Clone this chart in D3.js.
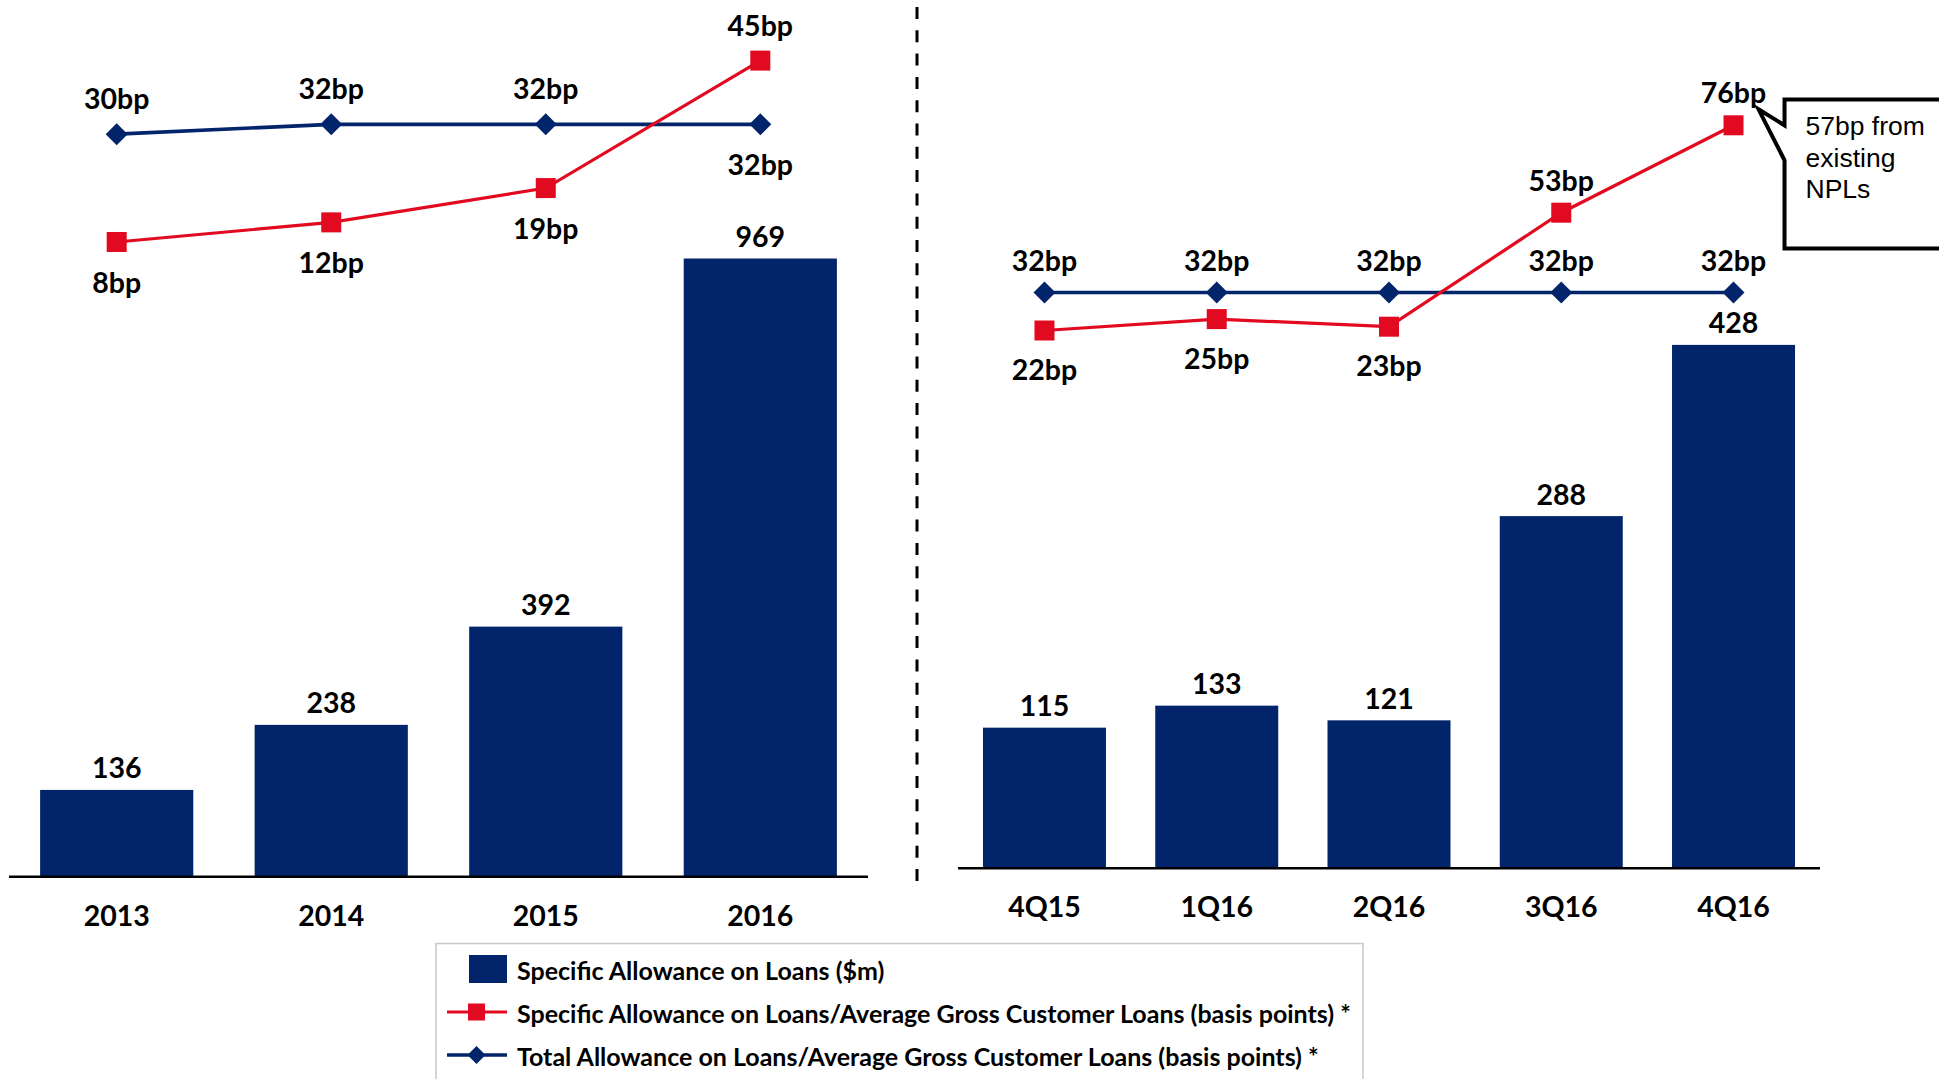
<!DOCTYPE html>
<html>
<head>
<meta charset="utf-8">
<script src="https://cdn.jsdelivr.net/npm/d3@7/dist/d3.min.js"></script>
<style>
  html, body { margin: 0; padding: 0; background: #ffffff; }
  svg { display: block; }
  .lbl { font-family: Lato, "Open Sans", sans-serif; font-weight: 700; fill: #000; }
</style>
</head>
<body>
<svg id="chart" width="1939" height="1079"></svg>
<script>
// ---- Annual figures ----
const yearCategories = ["2013", "2014", "2015", "2016"];
const yearAllowance = [136, 238, 392, 969];          // $m
const yearSpecificBp = [8, 12, 19, 45];              // basis points
const yearTotalBp = [30, 32, 32, 32];                // basis points

// ---- Quarterly figures ----
const quarterCategories = ["4Q15", "1Q16", "2Q16", "3Q16", "4Q16"];
const quarterAllowance = [115, 133, 121, 288, 428];  // $m
const quarterSpecificBp = [22, 25, 23, 53, 76];      // basis points
const quarterTotalBp = [32, 32, 32, 32, 32];         // basis points

// ---- Legend and note ----
const legendLabels = [
  "Specific Allowance on Loans ($m)",
  "Specific Allowance on Loans/Average Gross Customer Loans (basis points) *",
  "Total Allowance on Loans/Average Gross Customer Loans (basis points) *"
];
const noteLines = ["57bp from", "existing", "NPLs"];

const NAVY = "#02246a";
const RED = "#e20a20";
const FONT = 'Lato, "Open Sans", sans-serif';
const LABEL_SIZE = 28.5;

const svg = d3.select("#chart");

const diamondPath = r => `M0,${-r}L${r},0L0,${r}L${-r},0Z`;

function drawPanel(p) {
  const g = svg.append("g");
  const x = d3.scaleBand()
    .domain(p.categories)
    .range(p.xRange)
    .paddingInner(0.286)
    .paddingOuter(0.145);
  const yBar = d3.scaleLinear().domain(p.barDomain).range(p.barRange);
  const yBp = d3.scaleLinear().domain(p.bpDomain).range(p.bpRange);
  const cx = c => x(c) + x.bandwidth() / 2;

  // bars
  g.selectAll("rect.bar")
    .data(p.categories.map((c, i) => ({ c, v: p.bars[i] })))
    .join("rect")
    .attr("class", "bar")
    .attr("x", d => x(d.c))
    .attr("y", d => yBar(d.v))
    .attr("width", x.bandwidth())
    .attr("height", d => yBar(0) - yBar(d.v))
    .attr("fill", NAVY);

  // bar value labels
  g.selectAll("text.barval")
    .data(p.categories.map((c, i) => ({ c, v: p.bars[i] })))
    .join("text")
    .attr("class", "lbl barval")
    .attr("x", d => cx(d.c))
    .attr("y", d => yBar(d.v) - 11.5)
    .attr("text-anchor", "middle")
    .attr("font-size", LABEL_SIZE)
    .text(d => d.v);

  // category axis
  const axis = d3.axisBottom(x).tickSize(0).tickPadding(0);
  const ax = g.append("g")
    .attr("transform", `translate(0,${yBar(0)})`)
    .call(axis);
  ax.select(".domain")
    .attr("d", `M${p.axisExtent[0]},0H${p.axisExtent[1]}`)
    .attr("stroke", "#000")
    .attr("stroke-width", 2.6);
  ax.selectAll(".tick text")
    .attr("y", 49)
    .attr("dy", null)
    .attr("font-family", FONT)
    .attr("font-weight", 700)
    .attr("font-size", LABEL_SIZE)
    .attr("fill", "#000");

  // lines: total (blue) underneath, specific (red) on top
  const series = [
    { vals: p.total, color: NAVY, width: 3.6, marker: "diamond", sides: p.totalSides },
    { vals: p.specific, color: RED, width: 3.2, marker: "square", sides: p.specificSides }
  ];
  series.forEach(s => {
    const pts = p.categories.map((c, i) => ({ c, v: s.vals[i], side: s.sides[i] }));
    g.append("path")
      .datum(pts)
      .attr("fill", "none")
      .attr("stroke", s.color)
      .attr("stroke-width", s.width)
      .attr("d", d3.line().x(d => cx(d.c)).y(d => yBp(d.v)));
    if (s.marker === "square") {
      g.selectAll(null).data(pts).join("rect")
        .attr("x", d => cx(d.c) - 10)
        .attr("y", d => yBp(d.v) - 10)
        .attr("width", 20).attr("height", 20)
        .attr("fill", s.color);
    } else {
      g.selectAll(null).data(pts).join("path")
        .attr("transform", d => `translate(${cx(d.c)},${yBp(d.v)})`)
        .attr("d", diamondPath(11))
        .attr("fill", s.color);
    }
    g.selectAll(null).data(pts).join("text")
      .attr("class", "lbl")
      .attr("x", d => cx(d.c))
      .attr("y", d => yBp(d.v) + (d.side === "above" ? p.aboveOffset : p.belowOffset))
      .attr("text-anchor", "middle")
      .attr("font-size", LABEL_SIZE)
      .text(d => d.v + "bp");
  });

  return { x, yBar, yBp, cx };
}

// annual panel
drawPanel({
  categories: yearCategories,
  bars: yearAllowance,
  specific: yearSpecificBp,
  total: yearTotalBp,
  specificSides: ["below", "below", "below", "above"],
  totalSides: ["above", "above", "above", "below"],
  xRange: [9, 868],
  axisExtent: [9, 868],
  barDomain: [0, 969],
  barRange: [876.7, 258.5],
  bpDomain: [0, 45],
  bpRange: [281.2, 60.6],
  aboveOffset: -25,
  belowOffset: 51
});

// quarterly panel
const q = drawPanel({
  categories: quarterCategories,
  bars: quarterAllowance,
  specific: quarterSpecificBp,
  total: quarterTotalBp,
  specificSides: ["below", "below", "below", "above", "above"],
  totalSides: ["above", "above", "above", "above", "above"],
  xRange: [958, 1820],
  axisExtent: [958, 1820],
  barDomain: [0, 428],
  barRange: [868.3, 344.9],
  bpDomain: [0, 76],
  bpRange: [414.1, 125.3],
  aboveOffset: -22,
  belowOffset: 49.5
});

// dashed divider between the two panels
svg.append("line")
  .attr("x1", 917).attr("x2", 917)
  .attr("y1", 7).attr("y2", 884)
  .attr("stroke", "#000")
  .attr("stroke-width", 3)
  .attr("stroke-dasharray", "12 11.3");

// callout attached to the latest quarterly point
{
  const last = quarterCategories.length - 1;
  const px = q.cx(quarterCategories[last]);
  const py = q.yBp(quarterSpecificBp[last]);
  const left = px + 51, top = py - 25.7, bottom = py + 123.3, right = 1960;
  const tip = [px + 25, py - 16];
  const pts = [
    [right, top], [left, top], [left, py], tip, [left, py + 35], [left, bottom], [right, bottom]
  ];
  svg.append("path")
    .attr("d", d3.line()(pts))
    .attr("fill", "#fff")
    .attr("stroke", "#000")
    .attr("stroke-width", 4)
    .attr("stroke-linejoin", "miter");
  svg.append("g").selectAll("text")
    .data(noteLines)
    .join("text")
    .attr("x", left + 21)
    .attr("y", (d, i) => py + 10 + i * 31.3)
    .attr("font-family", '"Liberation Sans", Arial, sans-serif')
    .attr("font-size", 26.5)
    .attr("fill", "#000")
    .text(d => d);
}

// legend
{
  const lg = svg.append("g");
  lg.append("rect")
    .attr("x", 436).attr("y", 943.5)
    .attr("width", 927).attr("height", 200)
    .attr("fill", "#fff")
    .attr("stroke", "#c8c8c8")
    .attr("stroke-width", 1.5);
  const rows = legendLabels.map((t, i) => ({ t, i }));
  const rowY = i => 969 + i * 43;   // vertical centre of each row
  lg.append("rect")
    .attr("x", 469).attr("y", rowY(0) - 14)
    .attr("width", 38).attr("height", 28)
    .attr("fill", NAVY);
  lg.append("line")
    .attr("x1", 447).attr("x2", 507)
    .attr("y1", rowY(1)).attr("y2", rowY(1))
    .attr("stroke", RED).attr("stroke-width", 3.2);
  lg.append("rect")
    .attr("x", 476.5 - 8.5).attr("y", rowY(1) - 8.5)
    .attr("width", 17).attr("height", 17)
    .attr("fill", RED);
  lg.append("line")
    .attr("x1", 447).attr("x2", 507)
    .attr("y1", rowY(2)).attr("y2", rowY(2))
    .attr("stroke", NAVY).attr("stroke-width", 3.6);
  lg.append("path")
    .attr("transform", `translate(476.5,${rowY(2)})`)
    .attr("d", diamondPath(9))
    .attr("fill", NAVY);
  lg.selectAll("text")
    .data(rows)
    .join("text")
    .attr("class", "lbl")
    .attr("x", 517)
    .attr("y", d => rowY(d.i) + 10.5)
    .attr("font-size", 25)
    .text(d => d.t);
}
</script>
</body>
</html>
